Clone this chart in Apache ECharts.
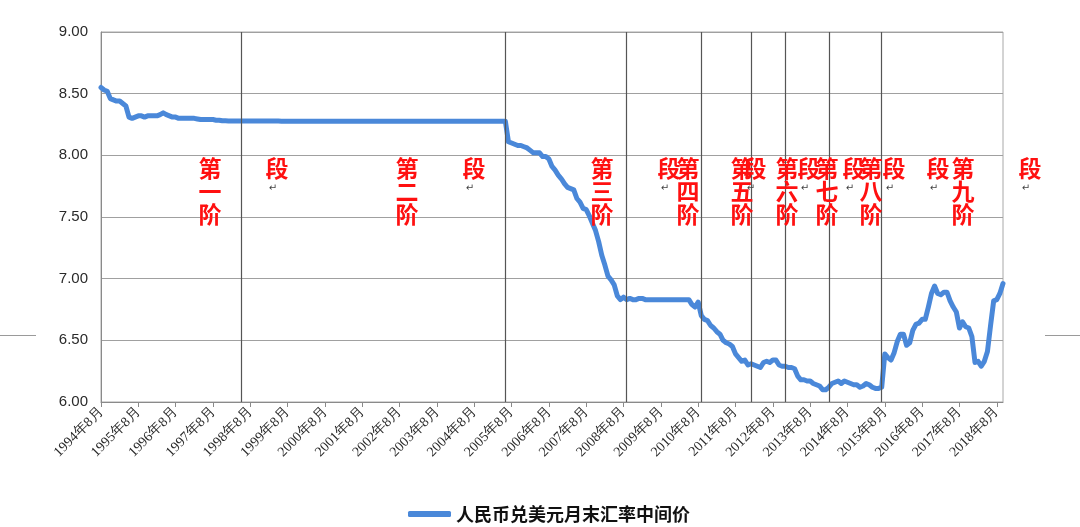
<!DOCTYPE html>
<html>
<head>
<meta charset="utf-8">
<script src="https://cdn.jsdelivr.net/npm/echarts@6/dist/echarts.min.js"></script>
<style>
  html, body { margin: 0; padding: 0; background: #ffffff; }
  #main { width: 1080px; height: 527px; }
</style>
</head>
<body>
<div id="main"></div>
<script>
// ---------- data ----------
const seriesName = '人民币兑美元月末汇率中间价';

// month-end central parity, 1994年8月 .. 2018年10月
const rate1994_1997 = [
  8.55, 8.53, 8.52, 8.46, 8.45,
  8.44, 8.44, 8.42, 8.40, 8.31, 8.30, 8.31, 8.32, 8.32, 8.31, 8.32, 8.32,
  8.32, 8.32, 8.33, 8.345, 8.33, 8.32, 8.31, 8.31, 8.30, 8.30, 8.30, 8.30,
  8.30, 8.30, 8.295, 8.29, 8.29, 8.29, 8.29, 8.29, 8.285, 8.285, 8.28, 8.28
];
const rate1998_2004 = [
  8.279, 8.279, 8.279, 8.279, 8.279, 8.279, 8.279, 8.279, 8.278, 8.278, 8.278, 8.278,
  8.278, 8.278, 8.278, 8.278, 8.278, 8.277, 8.277, 8.277, 8.277, 8.277, 8.277, 8.277,
  8.277, 8.277, 8.277, 8.277, 8.277, 8.277, 8.277, 8.277, 8.277, 8.277, 8.277, 8.277,
  8.277, 8.277, 8.277, 8.277, 8.277, 8.277, 8.277, 8.277, 8.277, 8.277, 8.277, 8.277,
  8.277, 8.277, 8.277, 8.277, 8.277, 8.277, 8.277, 8.277, 8.277, 8.277, 8.277, 8.277,
  8.277, 8.277, 8.277, 8.277, 8.277, 8.277, 8.277, 8.277, 8.277, 8.277, 8.277, 8.277,
  8.277, 8.277, 8.277, 8.277, 8.277, 8.277, 8.277, 8.277, 8.277, 8.277, 8.277, 8.277
];
const rate2005_2009 = [
  8.277, 8.277, 8.277, 8.277, 8.277, 8.277, 8.11, 8.10, 8.09, 8.08, 8.08, 8.07,
  8.06, 8.04, 8.02, 8.02, 8.02, 7.99, 7.99, 7.97, 7.91, 7.88, 7.84, 7.81,
  7.77, 7.74, 7.73, 7.72, 7.65, 7.62, 7.57, 7.56, 7.51, 7.45, 7.39, 7.30,
  7.19, 7.11, 7.02, 6.99, 6.95, 6.86, 6.83, 6.85, 6.83, 6.84, 6.83, 6.83,
  6.84, 6.84, 6.83, 6.83, 6.83, 6.83, 6.83, 6.83, 6.83, 6.83, 6.83, 6.83
];
const rate2010_2014 = [
  6.83, 6.83, 6.83, 6.83, 6.83, 6.79, 6.77, 6.81, 6.70, 6.67, 6.66, 6.62,
  6.60, 6.57, 6.55, 6.50, 6.48, 6.47, 6.45, 6.39, 6.36, 6.33, 6.34, 6.30,
  6.31, 6.30, 6.29, 6.28, 6.32, 6.33, 6.32, 6.34, 6.34, 6.30, 6.29, 6.29,
  6.28, 6.28, 6.27, 6.21, 6.18, 6.18, 6.17, 6.17, 6.15, 6.14, 6.13, 6.10,
  6.10, 6.12, 6.15, 6.16, 6.17, 6.15, 6.17, 6.16, 6.15, 6.14, 6.14, 6.12
];
const rate2015_2018 = [
  6.13, 6.15, 6.14, 6.12, 6.11, 6.11, 6.12, 6.39, 6.36, 6.34, 6.40, 6.49,
  6.55, 6.55, 6.46, 6.48, 6.58, 6.63, 6.64, 6.67, 6.67, 6.77, 6.88, 6.94,
  6.88, 6.87, 6.89, 6.89, 6.82, 6.77, 6.73, 6.60, 6.65, 6.61, 6.60, 6.53,
  6.32, 6.33, 6.29, 6.33, 6.41, 6.62, 6.82, 6.83, 6.88, 6.96
];
const rates = [].concat(rate1994_1997, rate1998_2004, rate2005_2009, rate2010_2014, rate2015_2018);

// month categories
const categories = [];
(function () {
  let y = 1994, m = 8;
  while (!(y === 2018 && m > 10)) {
    categories.push(y + '年' + m + '月');
    m++; if (m > 12) { m = 1; y++; }
  }
})();

// y tick values
const yTicks = [6.00, 6.50, 7.00, 7.50, 8.00, 8.50, 9.00];

// stage boundaries (category names)
const stageBoundaries = ['1998年5月', '2005年6月', '2008年9月', '2010年9月', '2012年1月', '2012年12月', '2014年2月', '2015年7月'];

// stage annotation texts
const stageNumbers = ['一', '二', '三', '四', '五', '六', '七', '八', '九'];

// ---------- layout (pixels for annotation text boxes) ----------
const stageColX = [210, 407, 602, 688, 742, 787, 827, 871, 963];
const stageDuanOffset = 67;

// ---------- chart ----------
const chart = echarts.init(document.getElementById('main'), null, { renderer: 'canvas' });

const graphics = [];
// decorative side rules
graphics.push({ type: 'line', shape: { x1: 0, y1: 335.5, x2: 36, y2: 335.5 }, style: { stroke: '#9a9a9a', lineWidth: 1 }, silent: true });
graphics.push({ type: 'line', shape: { x1: 1045, y1: 335.5, x2: 1080, y2: 335.5 }, style: { stroke: '#9a9a9a', lineWidth: 1 }, silent: true });

stageNumbers.forEach(function (num, i) {
  const x = stageColX[i];
  graphics.push({
    type: 'text', x: x + stageDuanOffset - 4, y: 183, z: 100,
    style: { text: '↵', fill: '#444', font: '10px "DejaVu Sans"', align: 'center', verticalAlign: 'top' },
    silent: true
  });
  graphics.push({
    type: 'text', x: x + stageDuanOffset, y: 157, z: 101,
    style: { text: '段', fill: '#ff1010', font: 'bold 23px "Noto Sans CJK SC"', align: 'center', verticalAlign: 'top' },
    silent: true
  });
  graphics.push({
    type: 'text', x: x, y: 157, z: 102,
    style: { text: '第\n' + num + '\n阶', fill: '#ff1010', font: 'bold 23px "Noto Sans CJK SC"', lineHeight: 23, align: 'center', verticalAlign: 'top' },
    silent: true
  });
});

const option = {
  backgroundColor: '#ffffff',
  animation: false,
  grid: {
    left: 101, right: 77, top: 32, bottom: 125,
    show: true, borderColor: '#a8a8a8', borderWidth: 1
  },
  legend: {
    data: [seriesName],
    left: 403, top: 500,
    icon: 'roundRect',
    itemWidth: 43, itemHeight: 6,
    itemGap: 10,
    textStyle: { fontFamily: '"Noto Sans CJK SC"', fontWeight: 'bold', fontSize: 18, color: '#111' }
  },
  xAxis: {
    type: 'category',
    data: categories,
    boundaryGap: false,
    axisLine: { show: true, lineStyle: { color: '#8a8a8a', width: 1 } },
    axisTick: { show: true, interval: 11, length: 5, lineStyle: { color: '#8a8a8a' } },
    axisLabel: {
      interval: 11, rotate: 45, margin: 8,
      fontFamily: '"Liberation Serif", serif', fontSize: 14, color: '#2a2a2a'
    },
    splitLine: { show: false }
  },
  yAxis: {
    type: 'value',
    min: 6, max: 9, interval: 0.5,
    axisLine: { show: true, lineStyle: { color: '#8a8a8a' } },
    axisTick: { show: false },
    axisLabel: {
      margin: 13, fontFamily: '"Liberation Sans", sans-serif', fontSize: 15, color: '#2a2a2a',
      formatter: function (v) { return v.toFixed(2); }
    },
    splitLine: { show: true, lineStyle: { color: '#a0a0a0', width: 1 } }
  },
  series: [{
    name: seriesName,
    type: 'line',
    data: rates,
    showSymbol: false,
    symbol: 'none',
    smooth: false,
    lineStyle: { color: '#4a88d9', width: 5, cap: 'round', join: 'round' },
    itemStyle: { color: '#4a88d9' },
    markLine: {
      silent: true,
      symbol: ['none', 'none'],
      label: { show: false },
      lineStyle: { color: '#555', width: 1.2, type: 'solid' },
      data: stageBoundaries.map(function (c) { return { xAxis: c }; })
    },
    z: 3
  }],
  graphic: graphics
};

chart.setOption(option);
</script>
</body>
</html>
